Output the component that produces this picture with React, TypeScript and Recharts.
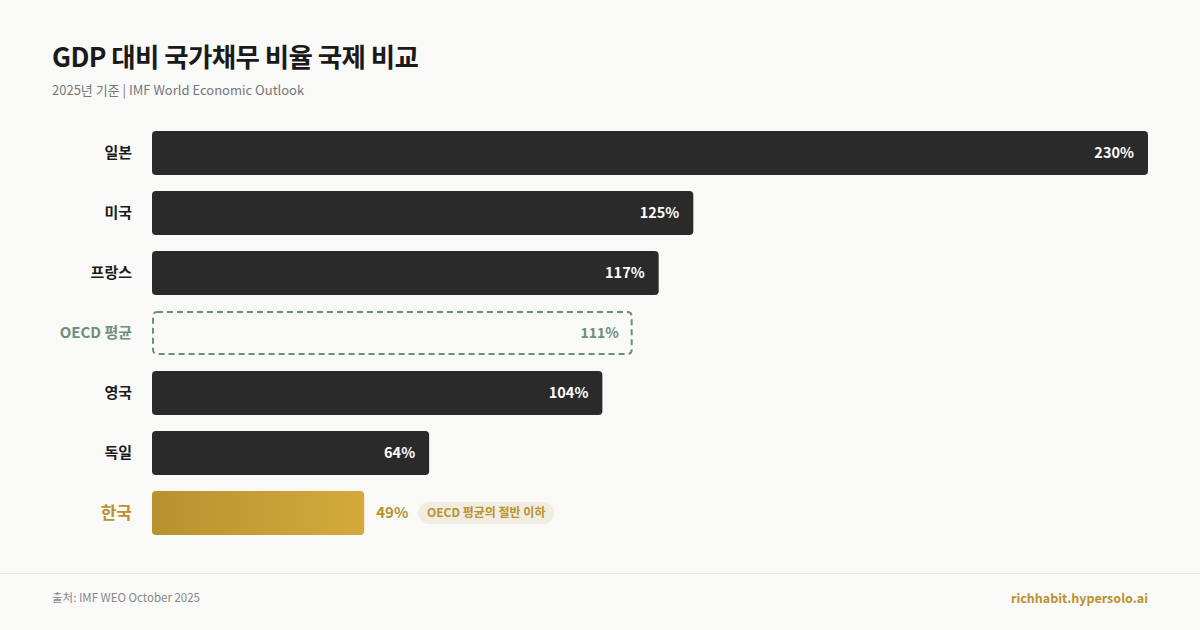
import { Bar, BarChart, LabelList, XAxis, YAxis } from "recharts";

const countries = ["일본", "미국", "프랑스", "OECD 평균", "영국", "독일", "한국"];
const debtRatios = [230, 125, 117, 111, 104, 64, 49];
const kinds = ["normal", "normal", "normal", "avg", "normal", "normal", "highlight"];
const badgeText = "OECD 평균의 절반 이하";

const data = countries.map((name, i) => ({ name, value: debtRatios[i], kind: kinds[i] }));

const FONT = '"Noto Sans CJK KR", "Noto Sans", sans-serif';
const GOLD = "#b8922e";
const GREEN = "#6b8f7b";

const BarShape = (props: any) => {
  const { x, y, width, height, payload } = props;
  if (payload.kind === "avg") {
    return (
      <rect
        x={x + 1}
        y={y + 1}
        width={width - 2}
        height={height - 2}
        rx={4}
        fill="none"
        stroke={GREEN}
        strokeWidth={2}
        strokeDasharray="6 4"
      />
    );
  }
  return (
    <rect
      x={x}
      y={y}
      width={width}
      height={height}
      rx={4}
      fill={payload.kind === "highlight" ? "url(#goldGrad)" : "#2a2a2a"}
    />
  );
};

const ValueLabel = (props: any) => {
  const { x, y, width, height, index } = props;
  const kind = kinds[index];
  const v = debtRatios[index];
  const cy = y + height / 2;
  if (kind === "highlight") {
    const bx = x + width + 54;
    return (
      <g fontFamily={FONT}>
        <text x={x + width + 12} y={cy} dy="0.36em" fill={GOLD} fontSize={15} fontWeight={700}>
          {v}%
        </text>
        <rect x={bx} y={cy - 11} width={136} height={22} rx={11} fill="#f0ece2" />
        <text x={bx + 68} y={cy} dy="0.36em" textAnchor="middle" fill={GOLD} fontSize={12} fontWeight={700}>
          {badgeText}
        </text>
      </g>
    );
  }
  return (
    <text
      x={x + width - 14}
      y={cy}
      dy="0.36em"
      textAnchor="end"
      fontFamily={FONT}
      fontSize={kind === "avg" ? 14 : 14.5}
      fontWeight={700}
      fill={kind === "avg" ? GREEN : "#ffffff"}
    >
      {v}%
    </text>
  );
};

const CountryTick = (props: any) => {
  const { y, payload, index } = props;
  const kind = kinds[index];
  const color = kind === "avg" ? GREEN : kind === "highlight" ? GOLD : "#1a1a1a";
  return (
    <text
      x={132}
      y={y}
      dy="0.36em"
      textAnchor="end"
      fontFamily={FONT}
      fontSize={kind === "highlight" ? 17 : 15}
      fontWeight={700}
      fill={color}
    >
      {payload.value}
    </text>
  );
};

export default function App() {
  return (
    <div
      style={{
        position: "absolute",
        left: 0,
        top: 0,
        width: 1200,
        height: 630,
        background: "#f9f9f7",
        fontFamily: FONT,
        overflow: "hidden",
      }}
    >
      <div style={{ position: "absolute", left: 52, top: 36, fontSize: 26.5, fontWeight: 700, color: "#1a1a1a", letterSpacing: -0.6 }}>
        GDP 대비 국가채무 비율 국제 비교
      </div>
      <div style={{ position: "absolute", left: 52, top: 80, fontSize: 13, color: "#777" }}>
        2025년 기준 | IMF World Economic Outlook
      </div>

      <div style={{ position: "absolute", left: 0, top: 0 }}>
        <BarChart
          width={1200}
          height={630}
          data={data}
          layout="vertical"
          margin={{ top: 123, right: 52, bottom: 87, left: 0 }}
        >
          <defs>
            <linearGradient id="goldGrad" x1="0" y1="0" x2="1" y2="0">
              <stop offset="0%" stopColor="#b8922e" />
              <stop offset="100%" stopColor="#d4aa3c" />
            </linearGradient>
          </defs>
          <XAxis type="number" domain={[0, 230]} hide />
          <YAxis
            type="category"
            dataKey="name"
            width={152}
            axisLine={false}
            tickLine={false}
            tick={<CountryTick />}
            interval={0}
          />
          <Bar dataKey="value" barSize={44} shape={<BarShape />} isAnimationActive={false}>
            <LabelList dataKey="value" content={<ValueLabel />} />
          </Bar>
        </BarChart>
      </div>

      <div style={{ position: "absolute", left: 0, top: 573, width: 1200, height: 1, background: "#e6e6e2" }} />
      <div style={{ position: "absolute", left: 52, top: 589, fontSize: 11.5, color: "#888" }}>
        출처: IMF WEO October 2025
      </div>
      <div style={{ position: "absolute", right: 52, top: 588, fontSize: 12.5, fontWeight: 700, color: GOLD }}>
        richhabit.hypersolo.ai
      </div>
    </div>
  );
}
